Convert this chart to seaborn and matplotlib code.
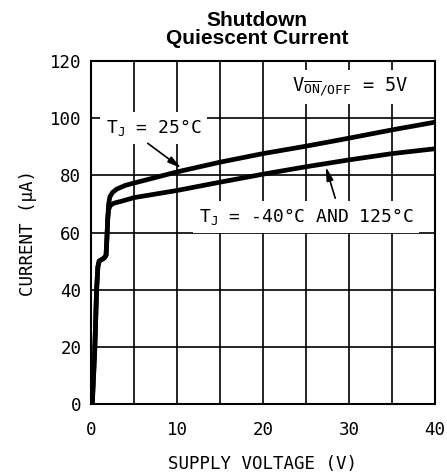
import numpy as np
import pandas as pd
import seaborn as sns
import matplotlib.pyplot as plt

# data
v_25 = [0.15, 0.45, 0.65, 0.8, 0.95, 1.5, 1.75, 1.85, 1.95, 2.05, 2.2, 2.5, 3.0, 4.0,
        5.0, 10, 15, 20, 25, 30, 35, 40]
i_25 = [0, 20, 40, 48, 50, 51, 52, 58, 65, 70, 72.5, 74, 75.2, 76.5,
        77.3, 81.2, 84.6, 87.6, 90.2, 93.0, 95.9, 98.6]

v_hot = [0.15, 0.45, 0.65, 0.8, 0.95, 1.5, 1.75, 1.85, 1.95, 2.05, 2.25, 2.7, 3.5,
         5.0, 10, 15, 20, 25, 30, 35, 40]
i_hot = [0, 20, 40, 48, 50, 51, 52, 58, 65, 68, 69.5, 70.3, 70.9,
         72.2, 74.7, 77.6, 80.4, 83.0, 85.4, 87.6, 89.3]

x_major = [0, 10, 20, 30, 40]
y_major = [0, 20, 40, 60, 80, 100, 120]

df = pd.concat([
    pd.DataFrame({'V': v_25, 'I': i_25, 'T': '25C'}),
    pd.DataFrame({'V': v_hot, 'I': i_hot, 'T': '-40C/125C'}),
])

sns.set_style('white')
plt.rcParams['font.family'] = ['DejaVu Sans Mono']
plt.rcParams['text.color'] = 'black'
plt.rcParams['axes.labelcolor'] = 'black'

fs = 12.6

fig = plt.figure(figsize=(4.47, 4.74), dpi=100)
ax = fig.add_axes([91/447, 1 - 404/474, 344/447, 343/474])

sns.lineplot(data=df, x='V', y='I', hue='T', palette=['black', 'black'],
             estimator=None, sort=False, linewidth=3.4, legend=False, ax=ax,
             zorder=3)

ax.set_xlim(0, 40)
ax.set_ylim(0, 120)
ax.set_xticks(x_major)
ax.set_xticks([5, 15, 25, 35], minor=True)
ax.set_yticks(y_major)
ax.grid(which='both', color='black', linewidth=1.2)
ax.set_axisbelow(True)
ax.tick_params(which='both', length=0, labelsize=fs, colors='black')
ax.tick_params(axis='x', pad=12)
ax.tick_params(axis='y', pad=7)
for s in ax.spines.values():
    s.set_color('black')
    s.set_linewidth(1.5)

ax.set_xlabel('SUPPLY VOLTAGE (V)', fontsize=fs, labelpad=12)
ax.set_ylabel('CURRENT (μA)', fontsize=fs, labelpad=9)

box = dict(facecolor='white', edgecolor='none', pad=4)
ax.text(7.3, 96.6, r'T$_\mathregular{J}$ = 25°C', fontsize=fs + 0.4,
        ha='center', va='center', bbox=box, zorder=4)
ax.text(25.0, 65.5, r'T$_\mathregular{J}$ = -40°C AND 125°C', fontsize=fs + 0.4,
        ha='center', va='center', bbox=box, zorder=4)
ax.text(30.2, 110.9, r'V$_\mathregular{\overline{ON}/OFF}$ = 5V', fontsize=fs + 0.8,
        ha='center', va='center', bbox=box, zorder=4)

arrow = dict(arrowstyle='-|>,head_width=0.2,head_length=0.8', color='black',
             lw=1.2, shrinkA=0, shrinkB=0)
ax.annotate('', xy=(10.5, 82.5), xytext=(6.6, 91.2), arrowprops=arrow, zorder=5)
ax.annotate('', xy=(27.3, 83.0), xytext=(28.4, 72.0), arrowprops=arrow, zorder=5)

fig.text(257/447, 1 - 11/474, 'Shutdown\nQuiescent Current', ha='center', va='top',
         fontsize=15, fontweight='bold', family='Liberation Sans', linespacing=0.95)

fig.savefig('out.png', dpi=100)
